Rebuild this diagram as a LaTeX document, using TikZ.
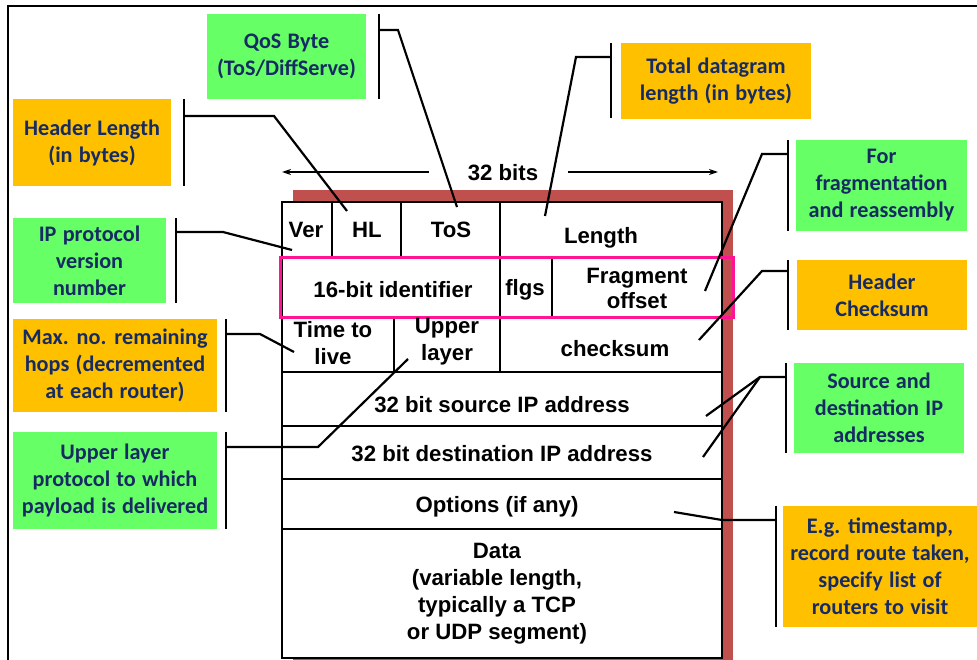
\documentclass[tikz,border=0pt]{standalone}
\usepackage{fontspec}
\setmainfont{Liberation Sans}
\newfontfamily\notefont[WordSpace={1.25}]{Carlito}
\usetikzlibrary{arrows.meta}
\definecolor{shadowred}{RGB}{192,80,77}
\definecolor{notegreen}{RGB}{102,255,102}
\definecolor{noteorange}{RGB}{255,192,0}
\definecolor{notetext}{RGB}{23,43,99}
\definecolor{hilite}{RGB}{255,20,147}
\begin{document}
\begin{tikzpicture}[x=1pt,y=-1pt,
  celltext/.style={font=\fontsize{22.2}{27}\selectfont\bfseries, align=center, inner sep=0pt},
  note/.style={font=\notefont\fontsize{22.2}{27}\selectfont\bfseries, text=notetext,
    align=center, inner sep=0pt},
  greennote/.style={note, fill=notegreen},
  orangenote/.style={note, fill=noteorange},
  bracket/.style={line width=2.6pt},
  leader/.style={line width=2.2pt},
  grid/.style={line width=1.8pt},
  span/.style={line width=1.4pt, -{Stealth[length=9pt,width=6pt]}}]
\useasboundingbox (0,0) rectangle (977,660);

% outer frame (left and top edges)
\draw[line width=2.8pt] (8,660) -- (8,6) -- (977,6);

% datagram table with its shadow
\fill[shadowred] (293,190) rectangle (733,660);
\draw[grid, fill=white] (282,202) rectangle (722,658);
\foreach \yy in {258,317,372,426,479,529} \draw[grid] (282,\yy) -- (722,\yy);
\foreach \xx in {332,401,500} \draw[grid] (\xx,202) -- (\xx,258);
\foreach \xx in {500,552} \draw[grid] (\xx,258) -- (\xx,317);
\foreach \xx in {394,500} \draw[grid] (\xx,317) -- (\xx,372);
\draw[line width=3pt, hilite] (280,258) rectangle (733,317);

% field labels
\node[celltext] (ver) at (306,230) {Ver};
\node[celltext] (hl) at (367,230) {HL};
\node[celltext] (tos) at (451,230) {ToS};
\node[celltext] (len) at (601,238) {Length};
\node[celltext] (ident) at (393,290) {16-bit identifier};
\node[celltext] (flgs) at (525,290) {flgs};
\node[celltext, font=\fontsize{22.2}{25}\selectfont\bfseries] (frag) at (637,288) {Fragment\\offset};
\node[celltext] (ttl) at (333,343) {Time to\\live};
\node[celltext] (upper) at (447,342) {Upper\\layer};
\node[celltext] (csum) at (615,349) {checksum};
\node[celltext] (src) at (502,405) {32 bit source IP address};
\node[celltext] (dst) at (502,454) {32 bit destination IP address};
\node[celltext] (opts) at (497,507) {Options (if any)};
\node[celltext] (data) at (497,594) {Data\\(variable length,\\typically a TCP\\or UDP segment)};

% width marker
\node[celltext] (bits) at (503,173) {32 bits};
\coordinate (bitsL) at (282,172);
\coordinate (bitsR) at (718,172);
\draw[span] (bits.west) ++(-39,-1) -- (bitsL);
\draw[span] (bits.east) ++(30,-1) -- (bitsR);

% annotation boxes
\node[greennote, minimum width=159pt, minimum height=85pt] (qos) at (286.5,56.5) {QoS Byte\\(ToS/DiffServe)};
\node[orangenote, minimum width=158pt, minimum height=87pt] (hlen) at (92,142.5) {Header Length\\(in bytes)};
\node[greennote, minimum width=153pt, minimum height=85pt] (ipver) at (89.5,260.5) {IP protocol\\version\\number};
\node[orangenote, minimum width=204pt, minimum height=93pt] (hops) at (115,365.5) {Max. no. remaining\\hops (decremented\\at each router)};
\node[greennote, minimum width=204pt, minimum height=97pt] (proto) at (115,480.5) {Upper layer\\protocol to which\\payload is delivered};
\node[orangenote, minimum width=190pt, minimum height=76pt] (total) at (716,81) {Total datagram\\length (in bytes)};
\node[greennote, minimum width=171pt, minimum height=91pt] (fragn) at (881.5,185.5) {For\\fragmentation\\and reassembly};
\node[orangenote, minimum width=170pt, minimum height=70pt] (hcs) at (882,295) {Header\\Checksum};
\node[greennote, minimum width=170pt, minimum height=90pt] (addr) at (879,408) {Source and\\destination IP\\addresses};
\node[orangenote, minimum width=194pt, minimum height=121pt] (misc) at (880,566.5) {E.g. timestamp,\\record route taken,\\specify list of\\routers to visit};

% brackets and leader lines
\coordinate (qosA) at (379,14);   \coordinate (qosB) at (379,99);
\coordinate (qosJ) at (379,30);   \coordinate (qosK) at (398,30);  \coordinate (qosT) at (457,207);
\draw[bracket] (qosA) -- (qosB);
\draw[leader] (qosJ) -- (qosK) -- (qosT);

\coordinate (hlA) at (184,99);    \coordinate (hlB) at (184,186);
\coordinate (hlJ) at (184,116);   \coordinate (hlK) at (274,116);  \coordinate (hlT) at (347,211);
\draw[bracket] (hlA) -- (hlB);
\draw[leader] (hlJ) -- (hlK) -- (hlT);

\coordinate (ivA) at (176,218);   \coordinate (ivB) at (176,303);
\coordinate (ivJ) at (176,232);   \coordinate (ivK) at (223,232);  \coordinate (ivT) at (292,250);
\draw[bracket] (ivA) -- (ivB);
\draw[leader] (ivJ) -- (ivK) -- (ivT);

\coordinate (hpA) at (226,319);   \coordinate (hpB) at (226,412);
\coordinate (hpJ) at (226,334);   \coordinate (hpK) at (260,334);  \coordinate (hpT) at (294,352);
\draw[bracket] (hpA) -- (hpB);
\draw[leader] (hpJ) -- (hpK) -- (hpT);

\coordinate (ulA) at (226,432);   \coordinate (ulB) at (226,529);
\coordinate (ulJ) at (226,447);   \coordinate (ulK) at (318,447);  \coordinate (ulT) at (408,359);
\draw[bracket] (ulA) -- (ulB);
\draw[leader] (ulJ) -- (ulK) -- (ulT);

\coordinate (tlA) at (611,43);    \coordinate (tlB) at (611,118);
\coordinate (tlJ) at (611,57);    \coordinate (tlK) at (576,57);   \coordinate (tlT) at (545,216);
\draw[bracket] (tlA) -- (tlB);
\draw[leader] (tlJ) -- (tlK) -- (tlT);

\coordinate (frA) at (788,140);   \coordinate (frB) at (788,231);
\coordinate (frJ) at (788,154);   \coordinate (frK) at (762,154);  \coordinate (frT) at (705,291);
\draw[bracket] (frA) -- (frB);
\draw[leader] (frJ) -- (frK) -- (frT);

\coordinate (csA) at (788,260);   \coordinate (csB) at (788,330);
\coordinate (csJ) at (788,271);   \coordinate (csK) at (762,271);  \coordinate (csT) at (699,340);
\draw[bracket] (csA) -- (csB);
\draw[leader] (csJ) -- (csK) -- (csT);

\coordinate (adA) at (786,363);   \coordinate (adB) at (786,453);
\coordinate (adJ) at (786,377);   \coordinate (adK) at (760,377);
\coordinate (adS) at (706,416);   \coordinate (adD) at (703,457);
\draw[bracket] (adA) -- (adB);
\draw[leader] (adJ) -- (adK) -- (adS);
\draw[leader] (adK) -- (adD);

\coordinate (egA) at (776,506);   \coordinate (egB) at (776,627);
\coordinate (egJ) at (776,520);   \coordinate (egK) at (722,520);  \coordinate (egT) at (674,512);
\draw[bracket] (egA) -- (egB);
\draw[leader] (egJ) -- (egK) -- (egT);
\end{tikzpicture}
\end{document}
